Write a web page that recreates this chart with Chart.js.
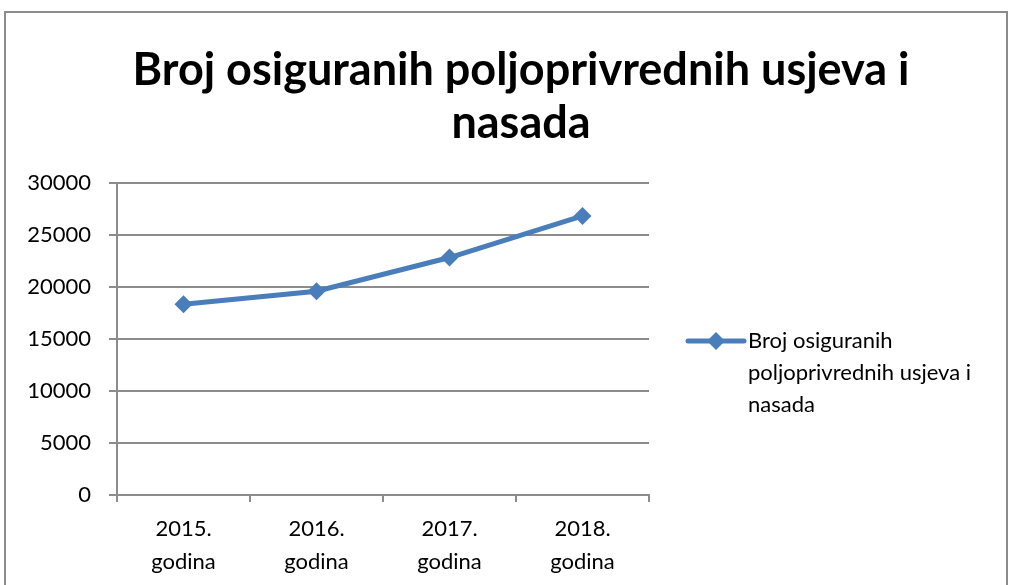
<!DOCTYPE html>
<html>
<head>
<meta charset="utf-8">
<script src="https://cdn.jsdelivr.net/npm/chart.js@4"></script>
<style>
  html, body { margin: 0; padding: 0; background: #fff; }
  .wrap { position: relative; width: 1014px; height: 585px; overflow: hidden; }
  .frame { position: absolute; left: 4px; top: 11px; width: 1004px; height: 600px; border: 2px solid #8c8c8c; box-sizing: border-box; }
  canvas { position: absolute; left: 0; top: 0; }
</style>
</head>
<body>
<div class="wrap">
  <div class="frame"></div>
  <canvas id="myChart" width="1014" height="585"></canvas>
</div>
<script>
const categories = [["2015.", "godina"], ["2016.", "godina"], ["2017.", "godina"], ["2018.", "godina"]];
const values = [18350, 19600, 22850, 26850];
const seriesName = "Broj osiguranih poljoprivrednih usjeva i nasada";
const titleLines = ["Broj osiguranih poljoprivrednih usjeva i", "nasada"];
const yTicks = [0, 5000, 10000, 15000, 20000, 25000, 30000];

const blue = "#4a7ebb";
const gray = "#8c8c8c";
const font = "Lato, 'Open Sans', sans-serif";

// legend on the right, wrapped like the original
const sideLegend = {
    id: "sideLegend",
    afterDraw(chart) {
        const ctx = chart.ctx;
        const area = chart.chartArea;
        const ds = chart.data.datasets[0];
        const x0 = area.right + 39;
        const y0 = (area.top + area.bottom) / 2 + 2;
        ctx.save();
        ctx.strokeStyle = ds.borderColor;
        ctx.lineWidth = 5;
        ctx.lineCap = "round";
        ctx.beginPath();
        ctx.moveTo(x0, y0);
        ctx.lineTo(x0 + 56, y0);
        ctx.stroke();
        const cx = x0 + 28, r = 9;
        ctx.fillStyle = ds.backgroundColor;
        ctx.beginPath();
        ctx.moveTo(cx, y0 - r);
        ctx.lineTo(cx + r, y0);
        ctx.lineTo(cx, y0 + r);
        ctx.lineTo(cx - r, y0);
        ctx.closePath();
        ctx.fill();

        ctx.font = "22px " + font;
        ctx.fillStyle = "#000";
        ctx.textBaseline = "middle";
        const tx = x0 + 60;
        const maxW = chart.width - tx - 6;
        const words = ds.label.split(" ");
        let lines = [], cur = "";
        words.forEach(w => {
            const test = cur ? cur + " " + w : w;
            if (ctx.measureText(test).width > maxW && cur) {
                lines.push(cur);
                cur = w;
            } else cur = test;
        });
        if (cur) lines.push(cur);
        lines.forEach((l, i) => ctx.fillText(l, tx, y0 + i * 32));
        ctx.restore();
    }
};

new Chart(document.getElementById("myChart"), {
    type: "line",
    data: {
        labels: categories,
        datasets: [{
            label: seriesName,
            data: values,
            borderColor: blue,
            backgroundColor: blue,
            borderWidth: 5,
            pointStyle: "rectRot",
            pointRadius: 9,
            pointHoverRadius: 9,
            pointBorderWidth: 0,
            tension: 0,
        }]
    },
    options: {
        responsive: false,
        animation: false,
        layout: { padding: { left: 28, right: 0, top: 10, bottom: 0 } },
        plugins: {
            legend: { display: false },
            tooltip: { enabled: false },
            title: {
                display: true,
                text: titleLines,
                color: "#000",
                font: { family: font, size: 45, weight: "bold", lineHeight: 1.18 },
                padding: { top: 34, bottom: 33 },
            }
        },
        scales: {
            x: {
                offset: true,
                grid: { offset: true, drawOnChartArea: false, color: gray, tickLength: 7, lineWidth: 2 },
                border: { color: gray, width: 2 },
                ticks: { color: "#000", font: { family: font, size: 22, lineHeight: 1.5 }, padding: 10, maxRotation: 0 },
                afterFit(scale) { scale.height = 90; }
            },
            y: {
                min: 0,
                max: 30000,
                afterBuildTicks(scale) { scale.ticks = yTicks.map(v => ({ value: v })); },
                grid: { color: gray, tickLength: 8, lineWidth: 2 },
                border: { color: gray, width: 2 },
                ticks: { color: "#000", font: { family: font, size: 22 }, padding: 18, callback: v => String(v) },
                afterFit(scale) { scale.width = 89; }
            },
            // empty axis on the right only keeps room for the legend
            side: {
                position: "right",
                display: true,
                grid: { display: false },
                border: { display: false },
                ticks: { display: false },
                afterFit(scale) { scale.width = 365; }
            }
        }
    },
    plugins: [sideLegend]
});
</script>
</body>
</html>
